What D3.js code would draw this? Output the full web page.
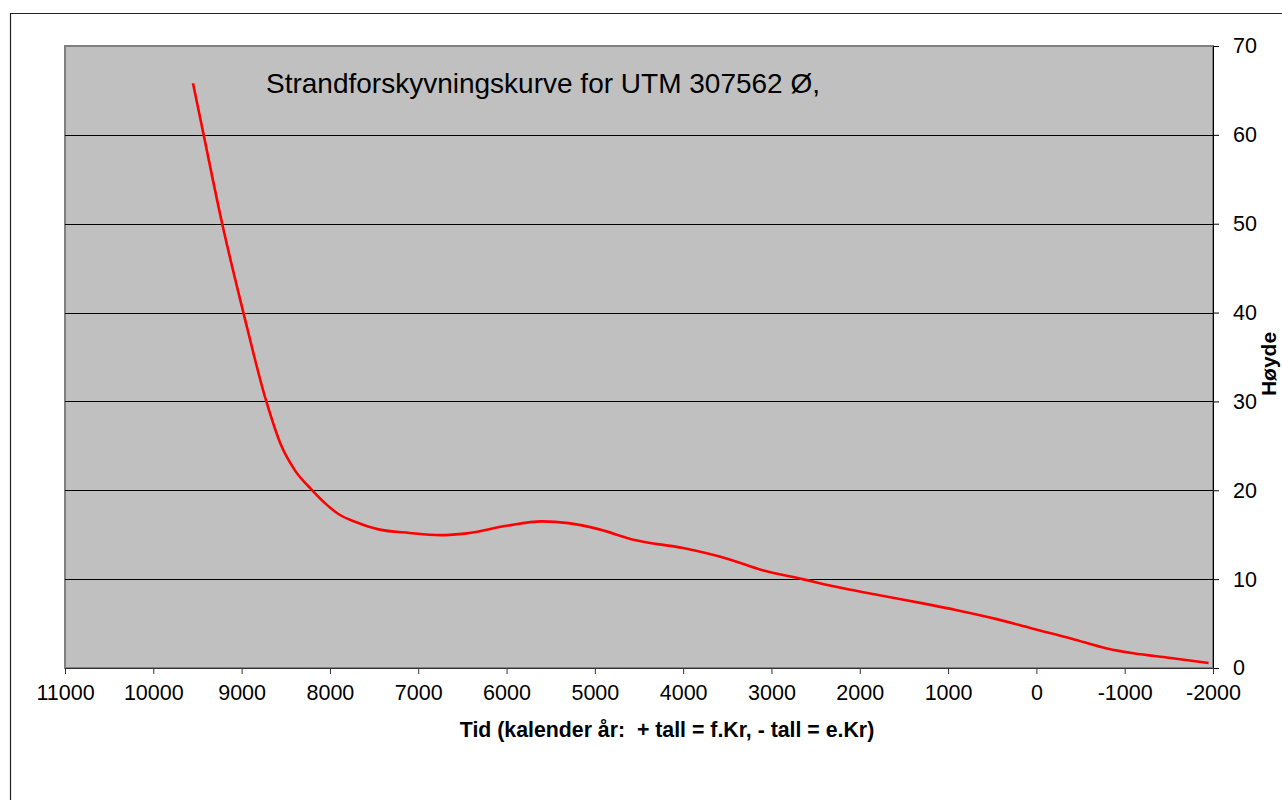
<!DOCTYPE html>
<html>
<head>
<meta charset="utf-8">
<script src="https://cdn.jsdelivr.net/npm/d3@7/dist/d3.min.js"></script>
<style>
  html, body { margin: 0; padding: 0; background: #fff; }
  svg { display: block; font-family: "Liberation Sans", Arial, sans-serif; }
</style>
</head>
<body>
<svg id="chart" width="1282" height="800"></svg>
<script>
// ---- data ----
const years = [9550, 9430, 9220, 8980, 8720, 8550, 8400, 8200, 8050, 7900, 7700, 7450, 7100, 6750, 6450, 6000, 5600, 5300, 4950, 4550, 4000, 3500, 3100, 2650, 2200, 1700, 1300, 900, 450, 50, -400, -800, -1100, -1500, -1950];
const heights = [65.8, 60, 50, 40, 30, 25, 22.3, 20, 18.5, 17.3, 16.4, 15.6, 15.2, 14.95, 15.15, 16.0, 16.5, 16.3, 15.6, 14.4, 13.5, 12.3, 11.0, 10.0, 9.0, 8.05, 7.3, 6.5, 5.5, 4.45, 3.3, 2.2, 1.65, 1.15, 0.57];
const xTicks = [11000, 10000, 9000, 8000, 7000, 6000, 5000, 4000, 3000, 2000, 1000, 0, -1000, -2000];
const yTicks = [0, 10, 20, 30, 40, 50, 60, 70];
const titleText = "Strandforskyvningskurve for UTM 307562 Ø,";
const xLabel = "Tid (kalender år:  + tall = f.Kr, - tall = e.Kr)";
const yLabel = "Høyde";

// ---- layout ----
const svg = d3.select("#chart");
const L = 65, R = 1213, T = 46, B = 668;

const x = d3.scaleLinear().domain([11000, -2000]).range([L, R]);
const y = d3.scaleLinear().domain([0, 70]).range([B, T]);

// outer border (only left and top visible)
svg.append("path")
  .attr("d", `M10.5,800 L10.5,13.5 L1282,13.5`)
  .attr("fill", "none").attr("stroke", "#222").attr("stroke-width", 1.2);

// plot area
svg.append("rect")
  .attr("x", L).attr("y", T).attr("width", R - L).attr("height", B - T)
  .attr("fill", "#C0C0C0").attr("stroke", "#808080").attr("stroke-width", 2);

// grid lines
svg.append("g").selectAll("line").data(yTicks.filter(d => d > 0 && d < 70)).join("line")
  .attr("x1", L).attr("x2", R)
  .attr("y1", d => Math.round(y(d)) + 0.5).attr("y2", d => Math.round(y(d)) + 0.5)
  .attr("stroke", "#000").attr("stroke-width", 1);

const fmt = d => String(d);

// axes
const yAxis = d3.axisRight(y).tickValues(yTicks).tickSize(6).tickSizeOuter(0).tickPadding(14).tickFormat(fmt);
const gy = svg.append("g").attr("transform", `translate(${R},0)`).call(yAxis);
gy.select(".domain").attr("stroke", "#000");
gy.selectAll(".tick line").attr("stroke", "#000");
gy.selectAll("text").attr("font-size", 21.5).attr("fill", "#000").attr("font-family", "Liberation Sans, Arial, sans-serif");

const xAxis = d3.axisBottom(x).tickValues(xTicks).tickSize(6).tickSizeOuter(0).tickPadding(11).tickFormat(fmt);
const gx = svg.append("g").attr("transform", `translate(0,${B})`).call(xAxis);
gx.select(".domain").attr("stroke", "#333");
gx.selectAll(".tick line").attr("stroke", "#333");
gx.selectAll("text").attr("font-size", 21.5).attr("fill", "#000").attr("font-family", "Liberation Sans, Arial, sans-serif");
gy.select(".domain").raise();

// curve
const line = d3.line()
  .x((d, i) => x(years[i]))
  .y((d, i) => y(heights[i]))
  .curve(d3.curveMonotoneX);
svg.append("path")
  .attr("d", line(heights))
  .attr("fill", "none").attr("stroke", "#FF0000").attr("stroke-width", 2.6);

// title
svg.append("text").attr("x", 266).attr("y", 93)
  .attr("font-size", 28).attr("fill", "#000").text(titleText);

// x label
svg.append("text").attr("x", 667).attr("y", 737).attr("text-anchor", "middle")
  .attr("xml:space", "preserve").style("white-space", "pre")
  .attr("font-size", 21.3).attr("font-weight", "bold").attr("fill", "#000").text(xLabel);

// y label
svg.append("text").attr("transform", "translate(1276,364) rotate(-90)")
  .attr("text-anchor", "middle")
  .attr("font-size", 21).attr("font-weight", "bold").attr("fill", "#000").text(yLabel);
</script>
</body>
</html>
